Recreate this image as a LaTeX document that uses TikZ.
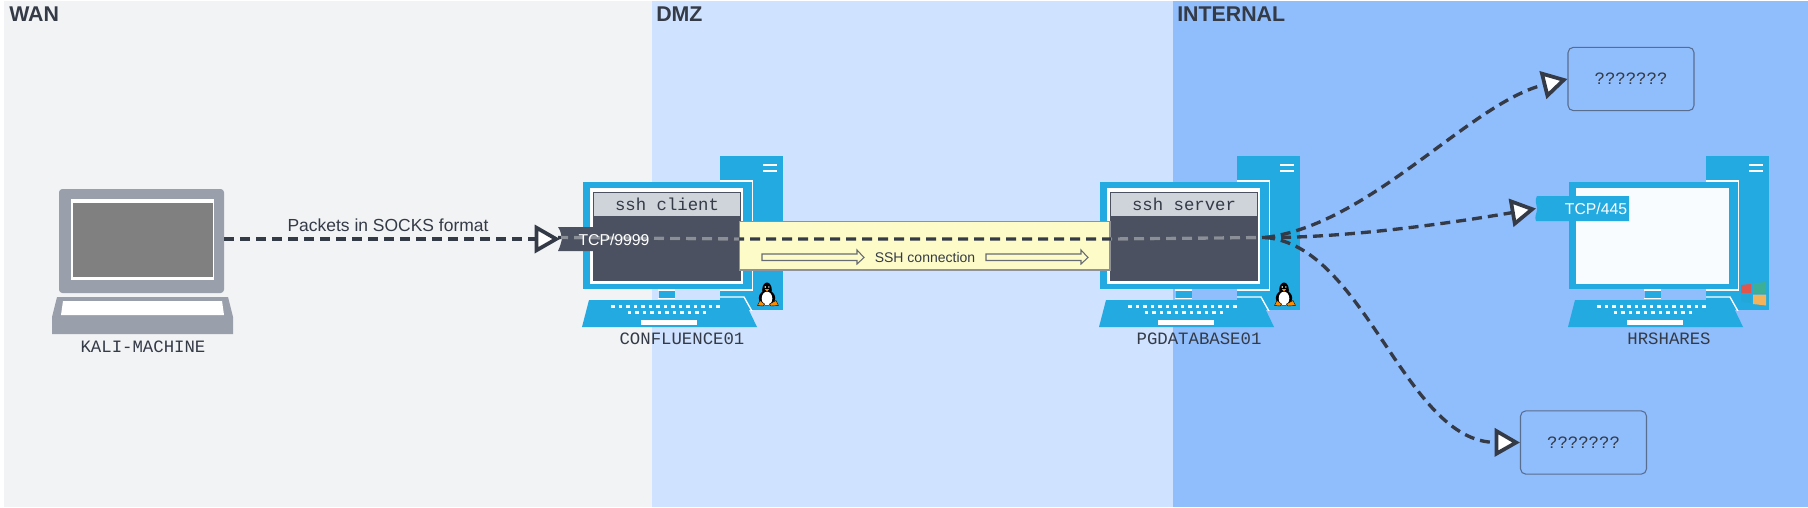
\documentclass[tikz,border=0pt]{standalone}
\usepackage{fontspec}
\setmainfont{Liberation Sans}
\setmonofont{Liberation Mono}
\usetikzlibrary{arrows.meta}
\definecolor{wanbg}{HTML}{F1F3F5}
\definecolor{dmzbg}{HTML}{CFE2FF}
\definecolor{intbg}{HTML}{90BDFC}
\definecolor{ink}{HTML}{343A46}
\definecolor{compblue}{HTML}{23AAE1}
\definecolor{screen}{HTML}{4B5160}
\definecolor{header}{HTML}{CFD4DB}
\definecolor{laptopgrey}{HTML}{9AA0AB}
\definecolor{yellowbox}{HTML}{FDFCC9}
\definecolor{ghost}{HTML}{8B8F98}
\definecolor{winred}{HTML}{E0564C}
\definecolor{winteal}{HTML}{3DAF97}
\definecolor{winblue}{HTML}{23A7D9}
\definecolor{winorange}{HTML}{F3B35A}
\definecolor{paper}{HTML}{F8FCFF}
\tikzset{
  x=0.75pt, y=-0.75pt,
  zonelabel/.style={font=\fontsize{16}{18}\bfseries\selectfont, text=ink, inner sep=0pt, anchor=west},
  monolabel/.style={font=\fontsize{13}{15}\ttfamily\selectfont, text=ink, inner sep=0pt},
  sanslabel/.style={font=\fontsize{13.1}{15}\selectfont, text=ink, inner sep=0pt},
  taglabel/.style={font=\fontsize{11.8}{14}\selectfont, text=white, inner sep=0pt},
  flow/.style={draw=ink, line width=2.5pt, dash pattern=on 7.5pt off 4.5pt},
  ghostflow/.style={draw=ghost, line width=2.5pt, dash pattern=on 7.5pt off 4.5pt},
  headtip/.style={-{Triangle[length=19pt,width=21pt,fill=white,line width=2.8pt]}},
  mystery/.style={draw=ink!60!intbg, line width=0.8pt, rounded corners=4pt, inner sep=0pt,
     minimum width=94.5pt, minimum height=47.5pt, font=\fontsize{13}{15}\ttfamily\selectfont, text=ink},
  blockarrow/.style={draw=ink!75, line width=0.8pt, fill=yellowbox},
}
\newcommand{\computerbase}[1]{%
  \begin{scope}[shift={(#1,0)}]
    \fill[compblue] (720,156) rectangle (783,310);
    \fill[white] (763,164) rectangle (777,166.3);
    \fill[white] (763,169.7) rectangle (777,172);
    \begin{scope}
      \clip (720,156) rectangle (783,310);
      \draw[white, line width=1pt] (752.5,181) -- (719,181);
      \draw[white, line width=1pt] (752.5,181) -- (752.5,290) -- (719,290);
      \draw[white, line width=1pt] (719,297) -- (744,297) -- (753,313);
    \end{scope}
    \fill[compblue] (583,182) rectangle (752,289);
    \draw[white, line width=1pt] (658,290) -- (675,290) (658,298.5) -- (675,298.5);
    \fill[compblue] (659,291) rectangle (675,298);
    \fill[compblue] (589,300) -- (744,300) -- (757,327) -- (582,327) -- cycle;
    \foreach \k in {0,...,14} \fill[white] ({611+\k*7.5},305) rectangle +(3.6,3.2);
    \foreach \k in {0,...,10} \fill[white] ({627.5+\k*7.5},311) rectangle +(3.6,3.2);
    \fill[white] (641,320) rectangle (697,325);
  \end{scope}}
\newcommand{\penguin}[1]{%
  \begin{scope}[shift={(#1,0)}]
    \fill[black] (767,290) ellipse (4.8 and 7.5);
    \fill[black] (767,298) ellipse (8.2 and 7.6);
    \fill[white] (767,298.5) ellipse (5.3 and 6.8);
    \fill[white] (765.2,287) circle (0.8);
    \fill[white] (768.8,287) circle (0.8);
    \fill[orange!90!yellow] (764.8,289.2) -- (769.2,289.2) -- (767,291.5) -- cycle;
    \fill[orange!90!yellow, draw=black, line width=0.3pt] (757.5,305.5) -- (760,300.5) -- (764.5,304) -- (763,306) -- cycle;
    \fill[orange!90!yellow, draw=black, line width=0.3pt] (778.5,305.5) -- (776,300.5) -- (769.5,304) -- (771,306) -- cycle;
  \end{scope}}
\begin{document}
\begin{tikzpicture}
\useasboundingbox (0,0) rectangle (1808,507);
\fill[white] (0,0) rectangle (1808,507);
% zones
\fill[wanbg] (4,1) rectangle (652,507);
\fill[dmzbg] (652,1) rectangle (1173,507);
\fill[intbg] (1173,1) rectangle (1808,507);
\node[zonelabel] (wan) at (9,14.5) {WAN};
\node[zonelabel] (dmz) at (656,14.5) {DMZ};
\node[zonelabel] (internal) at (1177,14.5) {INTERNAL};
% laptop
\fill[laptopgrey, rounded corners=2.5pt] (59,189) rectangle (224,293);
\fill[white] (71,199) rectangle (214,280);
\fill[black!50] (72.5,203) rectangle (213,277);
\fill[laptopgrey] (57,297) -- (228,297) -- (233,317) -- (233,334) -- (52,334) -- (52,317) -- cycle;
\fill[white] (63,301) -- (222,301) -- (224,315) -- (61,315) -- cycle;
\coordinate (laptop) at (224,239);
\node[monolabel] (kali) at (143,347) {KALI-MACHINE};
% computers
\computerbase{0}
\computerbase{517}
\computerbase{986}
% screens
\fill[white] (590,188) rectangle (743,284);
\fill[screen] (593,192) rectangle (740,280);
\fill[header] (593,192) rectangle (740,216);
\draw[screen, line width=0.5pt] (593,192) rectangle (740,280);
\fill[white] (1107,188) rectangle (1260,284);
\fill[screen] (1110,192) rectangle (1257,280);
\fill[header] (1110,192) rectangle (1257,216);
\draw[screen, line width=0.5pt] (1110,192) rectangle (1257,280);
\fill[paper] (1576,188) rectangle (1729,284);
\node[monolabel] (sshc) at (667,204.5) {ssh client};
\node[monolabel] (sshs) at (1184,204.5) {ssh server};
\node[monolabel] (conf) at (682,338.5) {CONFLUENCE01};
\node[monolabel] (pg) at (1199,338.5) {PGDATABASE01};
\node[monolabel] (hr) at (1669,338.5) {HRSHARES};
% os badges
\penguin{0}
\penguin{517}
\fill[winred] (1741,285) -- (1751,284) -- (1751,293) -- (1741,293) -- cycle;
\fill[winteal] (1753,283.5) -- (1766,282) -- (1766,293) -- (1753,293) -- cycle;
\fill[winblue] (1741,294.5) -- (1751,294.5) -- (1751,303) -- (1741,302) -- cycle;
\fill[winorange] (1753,294.5) -- (1766,294.5) -- (1766,305.5) -- (1753,304) -- cycle;
% tags
\fill[screen] (558,227) .. controls (561,231) and (561,235) .. (562,239) .. controls (561,243) and (560,247) .. (558,251) -- (594,251) -- (594,227) -- cycle;
\fill[compblue] (1537,196) .. controls (1534,200) and (1537,205) .. (1537,209) .. controls (1537,213) and (1534,217) .. (1536,221) -- (1629,221) -- (1629,196) -- cycle;
\coordinate (tagA) at (560,239);
\coordinate (tagB) at (1536,208.5);
% ssh tunnel
\node[draw=ink!55, line width=1pt, fill=yellowbox, minimum width=278pt, minimum height=36.5pt, inner sep=0pt] (tunnel) at (924.5,245.5) {};
\node[sanslabel, font=\fontsize{10.5}{13}\selectfont] (sshconn) at (925,257) {SSH connection};
\draw[blockarrow] (762,254) -- (857,254) -- (857,250) -- (864,257.5) -- (857,264) -- (857,260.5) -- (762,260.5) -- cycle;
\draw[blockarrow] (986,254) -- (1081,254) -- (1081,250) -- (1088,257.5) -- (1081,264) -- (1081,260.5) -- (986,260.5) -- cycle;
% mystery boxes
\node[mystery] (qa) at (1631,79) {???????};
\node[mystery] (qb) at (1583.5,442.5) {???????};
% connectors
\coordinate (tagL) at (558,237.5);
\coordinate (tunnelL) at (739,239);
\coordinate (tunnelR) at (1111,239);
\coordinate (hub) at (1265,237.5);
\draw[flow, headtip] (laptop) -- (tagA);
\draw[flow] (tagL) -- (tunnelL) -- (tunnelR) -- (hub);
\begin{scope}
  \clip (561,220) rectangle (739,260) (1111,220) rectangle (1257,260);
  \draw[ghostflow] (tagL) -- (tunnelL) -- (tunnelR) -- (hub);
\end{scope}
\draw[flow, headtip] (hub) .. controls (1370,225) and (1470,103) .. (qa.west);
\draw[flow, headtip] (hub) .. controls (1340,238) and (1440,225) .. (tagB);
\draw[flow, headtip] (hub) .. controls (1365,245) and (1405,442) .. (qb.west);
% labels on top of the connectors
\node[taglabel] (tcpA) at (614,240) {TCP/9999};
\node[taglabel] (tcpB) at (1596,208.5) {TCP/445};
\node[sanslabel] (packets) at (388,225) {Packets in SOCKS format};
\end{tikzpicture}
\end{document}
